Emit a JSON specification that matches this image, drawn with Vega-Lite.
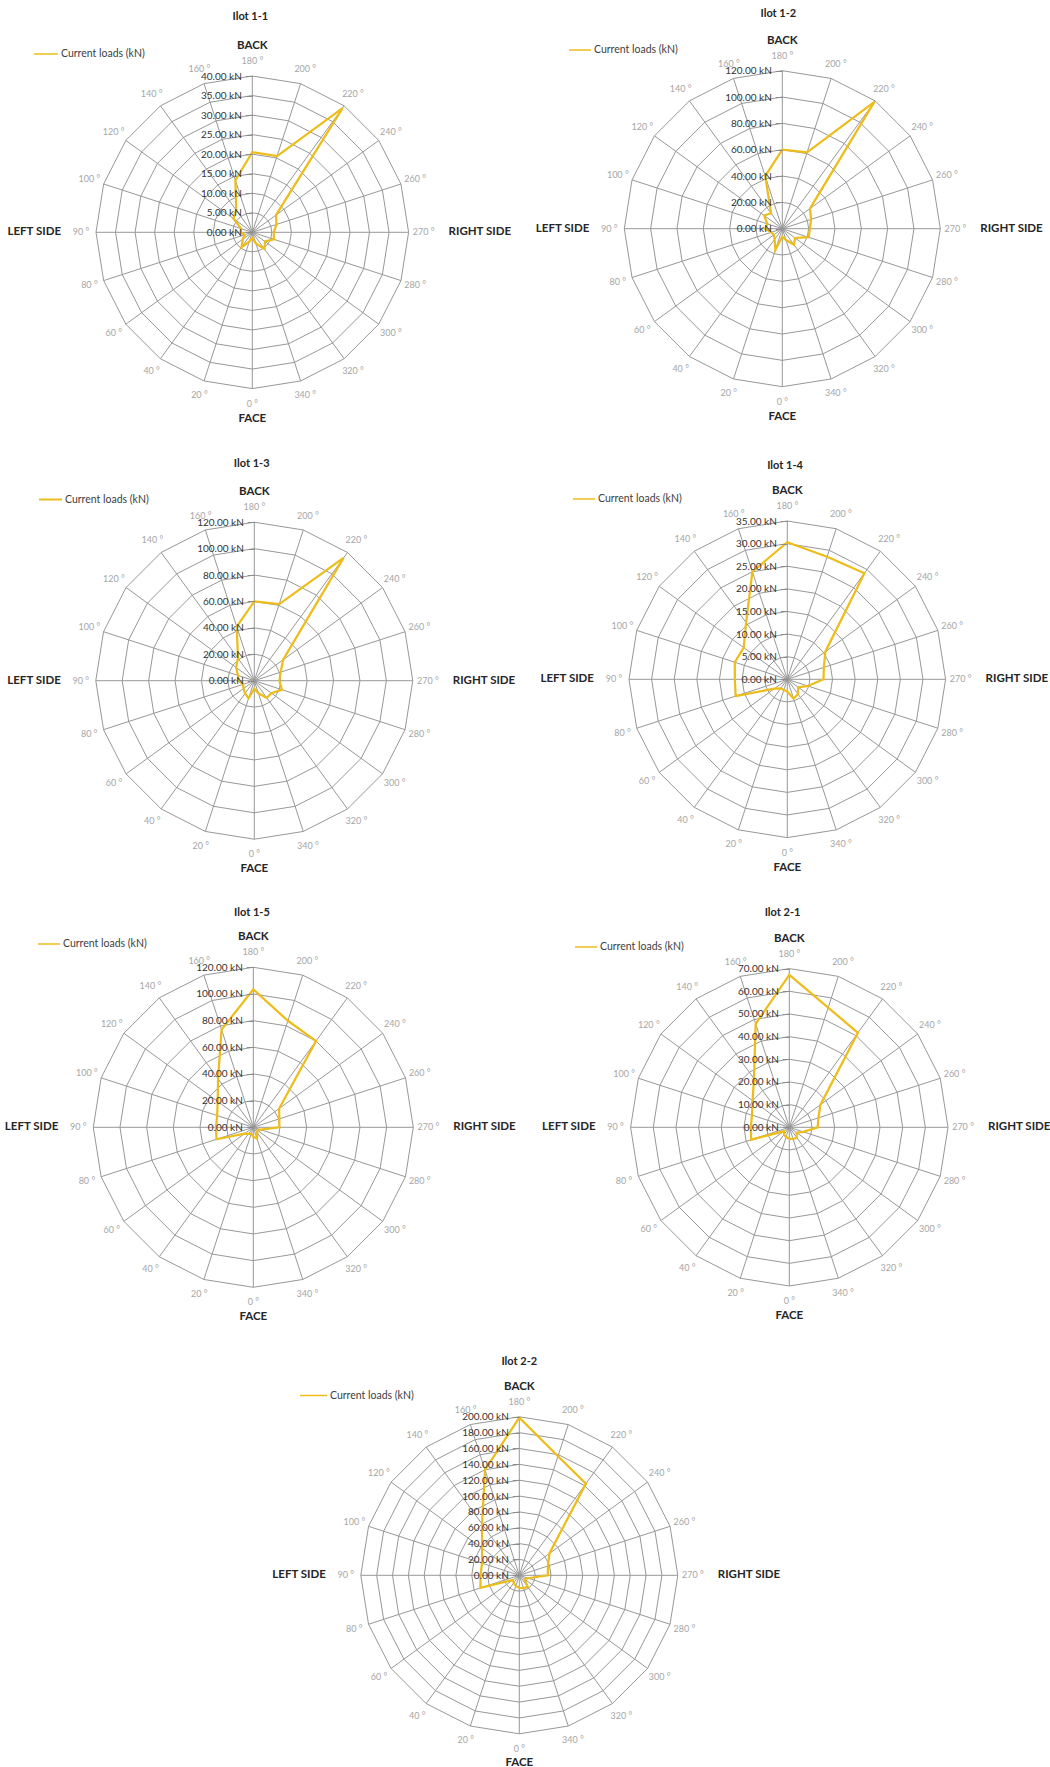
{
"$schema": "https://vega.github.io/schema/vega-lite/v6.json",
"padding": 0,
"background": "white",
"config": {"view": {"stroke": null}, "font": "Lato"},
"datasets": {
"spokes": [
{"dir":180,"i":0,"lab":"180 °"},{"dir":200,"i":1,"lab":"200 °"},{"dir":220,"i":2,"lab":"220 °"},{"dir":240,"i":3,"lab":"240 °"},{"dir":260,"i":4,"lab":"260 °"},{"dir":270,"i":5,"lab":"270 °"},{"dir":280,"i":6,"lab":"280 °"},{"dir":300,"i":7,"lab":"300 °"},{"dir":320,"i":8,"lab":"320 °"},{"dir":340,"i":9,"lab":"340 °"},{"dir":0,"i":10,"lab":"0 °"},{"dir":20,"i":11,"lab":"20 °"},{"dir":40,"i":12,"lab":"40 °"},{"dir":60,"i":13,"lab":"60 °"},{"dir":80,"i":14,"lab":"80 °"},{"dir":90,"i":15,"lab":"90 °"},{"dir":100,"i":16,"lab":"100 °"},{"dir":120,"i":17,"lab":"120 °"},{"dir":140,"i":18,"lab":"140 °"},{"dir":160,"i":19,"lab":"160 °"}],
"sides": [{"side":"BACK","i":0},{"side":"RIGHT SIDE","i":5},{"side":"FACE","i":10},{"side":"LEFT SIDE","i":15}],
"titles": [{"t":"Ilot 1-1"},{"t":"Ilot 1-2"},{"t":"Ilot 1-3"},{"t":"Ilot 1-4"},{"t":"Ilot 1-5"},{"t":"Ilot 2-1"},{"t":"Ilot 2-2"}],
"g40": [
{"ring":5,"k":[0,1,2,3,4,5,6,7,8,9,10,11,12,13,14,15,16,17,18,19]},
{"ring":10,"k":[0,1,2,3,4,5,6,7,8,9,10,11,12,13,14,15,16,17,18,19]},
{"ring":15,"k":[0,1,2,3,4,5,6,7,8,9,10,11,12,13,14,15,16,17,18,19]},
{"ring":20,"k":[0,1,2,3,4,5,6,7,8,9,10,11,12,13,14,15,16,17,18,19]},
{"ring":25,"k":[0,1,2,3,4,5,6,7,8,9,10,11,12,13,14,15,16,17,18,19]},
{"ring":30,"k":[0,1,2,3,4,5,6,7,8,9,10,11,12,13,14,15,16,17,18,19]},
{"ring":35,"k":[0,1,2,3,4,5,6,7,8,9,10,11,12,13,14,15,16,17,18,19]},
{"ring":40,"k":[0,1,2,3,4,5,6,7,8,9,10,11,12,13,14,15,16,17,18,19]}],
"g120": [
{"ring":20,"k":[0,1,2,3,4,5,6,7,8,9,10,11,12,13,14,15,16,17,18,19]},
{"ring":40,"k":[0,1,2,3,4,5,6,7,8,9,10,11,12,13,14,15,16,17,18,19]},
{"ring":60,"k":[0,1,2,3,4,5,6,7,8,9,10,11,12,13,14,15,16,17,18,19]},
{"ring":80,"k":[0,1,2,3,4,5,6,7,8,9,10,11,12,13,14,15,16,17,18,19]},
{"ring":100,"k":[0,1,2,3,4,5,6,7,8,9,10,11,12,13,14,15,16,17,18,19]},
{"ring":120,"k":[0,1,2,3,4,5,6,7,8,9,10,11,12,13,14,15,16,17,18,19]}],
"g35": [
{"ring":5,"k":[0,1,2,3,4,5,6,7,8,9,10,11,12,13,14,15,16,17,18,19]},
{"ring":10,"k":[0,1,2,3,4,5,6,7,8,9,10,11,12,13,14,15,16,17,18,19]},
{"ring":15,"k":[0,1,2,3,4,5,6,7,8,9,10,11,12,13,14,15,16,17,18,19]},
{"ring":20,"k":[0,1,2,3,4,5,6,7,8,9,10,11,12,13,14,15,16,17,18,19]},
{"ring":25,"k":[0,1,2,3,4,5,6,7,8,9,10,11,12,13,14,15,16,17,18,19]},
{"ring":30,"k":[0,1,2,3,4,5,6,7,8,9,10,11,12,13,14,15,16,17,18,19]},
{"ring":35,"k":[0,1,2,3,4,5,6,7,8,9,10,11,12,13,14,15,16,17,18,19]}],
"g70": [
{"ring":10,"k":[0,1,2,3,4,5,6,7,8,9,10,11,12,13,14,15,16,17,18,19]},
{"ring":20,"k":[0,1,2,3,4,5,6,7,8,9,10,11,12,13,14,15,16,17,18,19]},
{"ring":30,"k":[0,1,2,3,4,5,6,7,8,9,10,11,12,13,14,15,16,17,18,19]},
{"ring":40,"k":[0,1,2,3,4,5,6,7,8,9,10,11,12,13,14,15,16,17,18,19]},
{"ring":50,"k":[0,1,2,3,4,5,6,7,8,9,10,11,12,13,14,15,16,17,18,19]},
{"ring":60,"k":[0,1,2,3,4,5,6,7,8,9,10,11,12,13,14,15,16,17,18,19]},
{"ring":70,"k":[0,1,2,3,4,5,6,7,8,9,10,11,12,13,14,15,16,17,18,19]}],
"g200": [
{"ring":20,"k":[0,1,2,3,4,5,6,7,8,9,10,11,12,13,14,15,16,17,18,19]},
{"ring":40,"k":[0,1,2,3,4,5,6,7,8,9,10,11,12,13,14,15,16,17,18,19]},
{"ring":60,"k":[0,1,2,3,4,5,6,7,8,9,10,11,12,13,14,15,16,17,18,19]},
{"ring":80,"k":[0,1,2,3,4,5,6,7,8,9,10,11,12,13,14,15,16,17,18,19]},
{"ring":100,"k":[0,1,2,3,4,5,6,7,8,9,10,11,12,13,14,15,16,17,18,19]},
{"ring":120,"k":[0,1,2,3,4,5,6,7,8,9,10,11,12,13,14,15,16,17,18,19]},
{"ring":140,"k":[0,1,2,3,4,5,6,7,8,9,10,11,12,13,14,15,16,17,18,19]},
{"ring":160,"k":[0,1,2,3,4,5,6,7,8,9,10,11,12,13,14,15,16,17,18,19]},
{"ring":180,"k":[0,1,2,3,4,5,6,7,8,9,10,11,12,13,14,15,16,17,18,19]},
{"ring":200,"k":[0,1,2,3,4,5,6,7,8,9,10,11,12,13,14,15,16,17,18,19]}],
"loads": [
{"ilot":"Ilot 1-1","dir":180,"load":20.5},{"ilot":"Ilot 1-1","dir":200,"load":20.5},{"ilot":"Ilot 1-1","dir":220,"load":39.3},{"ilot":"Ilot 1-1","dir":240,"load":7.5},{"ilot":"Ilot 1-1","dir":260,"load":6.5},{"ilot":"Ilot 1-1","dir":270,"load":5.5},{"ilot":"Ilot 1-1","dir":280,"load":5.8},{"ilot":"Ilot 1-1","dir":300,"load":4.0},{"ilot":"Ilot 1-1","dir":320,"load":5.3},{"ilot":"Ilot 1-1","dir":340,"load":3.0},{"ilot":"Ilot 1-1","dir":0,"load":1.5},{"ilot":"Ilot 1-1","dir":20,"load":2.5},{"ilot":"Ilot 1-1","dir":40,"load":4.7},{"ilot":"Ilot 1-1","dir":60,"load":3.0},{"ilot":"Ilot 1-1","dir":80,"load":2.0},{"ilot":"Ilot 1-1","dir":90,"load":3.0},{"ilot":"Ilot 1-1","dir":100,"load":3.0},{"ilot":"Ilot 1-1","dir":120,"load":6.0},{"ilot":"Ilot 1-1","dir":140,"load":7.0},{"ilot":"Ilot 1-1","dir":160,"load":14.0},
{"ilot":"Ilot 1-2","dir":180,"load":60},{"ilot":"Ilot 1-2","dir":200,"load":61},{"ilot":"Ilot 1-2","dir":220,"load":119},{"ilot":"Ilot 1-2","dir":240,"load":26},{"ilot":"Ilot 1-2","dir":260,"load":23},{"ilot":"Ilot 1-2","dir":270,"load":21},{"ilot":"Ilot 1-2","dir":280,"load":21},{"ilot":"Ilot 1-2","dir":300,"load":12},{"ilot":"Ilot 1-2","dir":320,"load":15},{"ilot":"Ilot 1-2","dir":340,"load":9},{"ilot":"Ilot 1-2","dir":0,"load":6},{"ilot":"Ilot 1-2","dir":20,"load":17},{"ilot":"Ilot 1-2","dir":40,"load":10},{"ilot":"Ilot 1-2","dir":60,"load":8},{"ilot":"Ilot 1-2","dir":80,"load":9},{"ilot":"Ilot 1-2","dir":90,"load":13},{"ilot":"Ilot 1-2","dir":100,"load":12},{"ilot":"Ilot 1-2","dir":120,"load":17},{"ilot":"Ilot 1-2","dir":140,"load":14.5},{"ilot":"Ilot 1-2","dir":160,"load":42},
{"ilot":"Ilot 1-3","dir":180,"load":60},{"ilot":"Ilot 1-3","dir":200,"load":61},{"ilot":"Ilot 1-3","dir":220,"load":115},{"ilot":"Ilot 1-3","dir":240,"load":27},{"ilot":"Ilot 1-3","dir":260,"load":21},{"ilot":"Ilot 1-3","dir":270,"load":19},{"ilot":"Ilot 1-3","dir":280,"load":22},{"ilot":"Ilot 1-3","dir":300,"load":16},{"ilot":"Ilot 1-3","dir":320,"load":16},{"ilot":"Ilot 1-3","dir":340,"load":10},{"ilot":"Ilot 1-3","dir":0,"load":6},{"ilot":"Ilot 1-3","dir":20,"load":14},{"ilot":"Ilot 1-3","dir":40,"load":12},{"ilot":"Ilot 1-3","dir":60,"load":10},{"ilot":"Ilot 1-3","dir":80,"load":9},{"ilot":"Ilot 1-3","dir":90,"load":12},{"ilot":"Ilot 1-3","dir":100,"load":13},{"ilot":"Ilot 1-3","dir":120,"load":17},{"ilot":"Ilot 1-3","dir":140,"load":21},{"ilot":"Ilot 1-3","dir":160,"load":43},
{"ilot":"Ilot 1-4","dir":180,"load":30.3},{"ilot":"Ilot 1-4","dir":200,"load":28.5},{"ilot":"Ilot 1-4","dir":220,"load":29},{"ilot":"Ilot 1-4","dir":240,"load":10.4},{"ilot":"Ilot 1-4","dir":260,"load":8.5},{"ilot":"Ilot 1-4","dir":270,"load":8},{"ilot":"Ilot 1-4","dir":280,"load":4.8},{"ilot":"Ilot 1-4","dir":300,"load":3},{"ilot":"Ilot 1-4","dir":320,"load":4},{"ilot":"Ilot 1-4","dir":340,"load":4.5},{"ilot":"Ilot 1-4","dir":0,"load":2.7},{"ilot":"Ilot 1-4","dir":20,"load":2.5},{"ilot":"Ilot 1-4","dir":40,"load":2.5},{"ilot":"Ilot 1-4","dir":60,"load":3.5},{"ilot":"Ilot 1-4","dir":80,"load":12},{"ilot":"Ilot 1-4","dir":90,"load":11.6},{"ilot":"Ilot 1-4","dir":100,"load":12.2},{"ilot":"Ilot 1-4","dir":120,"load":11.9},{"ilot":"Ilot 1-4","dir":140,"load":15.5},{"ilot":"Ilot 1-4","dir":160,"load":25},
{"ilot":"Ilot 1-5","dir":180,"load":103.5},{"ilot":"Ilot 1-5","dir":200,"load":84},{"ilot":"Ilot 1-5","dir":220,"load":80},{"ilot":"Ilot 1-5","dir":240,"load":24},{"ilot":"Ilot 1-5","dir":260,"load":20.5},{"ilot":"Ilot 1-5","dir":270,"load":19.5},{"ilot":"Ilot 1-5","dir":280,"load":5.5},{"ilot":"Ilot 1-5","dir":300,"load":4},{"ilot":"Ilot 1-5","dir":320,"load":5},{"ilot":"Ilot 1-5","dir":340,"load":9},{"ilot":"Ilot 1-5","dir":0,"load":7},{"ilot":"Ilot 1-5","dir":20,"load":5},{"ilot":"Ilot 1-5","dir":40,"load":6},{"ilot":"Ilot 1-5","dir":60,"load":8},{"ilot":"Ilot 1-5","dir":80,"load":29},{"ilot":"Ilot 1-5","dir":90,"load":28},{"ilot":"Ilot 1-5","dir":100,"load":28.5},{"ilot":"Ilot 1-5","dir":120,"load":33},{"ilot":"Ilot 1-5","dir":140,"load":45},{"ilot":"Ilot 1-5","dir":160,"load":77},
{"ilot":"Ilot 2-1","dir":180,"load":67.2},{"ilot":"Ilot 2-1","dir":200,"load":55.5},{"ilot":"Ilot 2-1","dir":220,"load":51.5},{"ilot":"Ilot 2-1","dir":240,"load":17},{"ilot":"Ilot 2-1","dir":260,"load":13.5},{"ilot":"Ilot 2-1","dir":270,"load":12.5},{"ilot":"Ilot 2-1","dir":280,"load":6.5},{"ilot":"Ilot 2-1","dir":300,"load":4},{"ilot":"Ilot 2-1","dir":320,"load":5.5},{"ilot":"Ilot 2-1","dir":340,"load":5.5},{"ilot":"Ilot 2-1","dir":0,"load":5},{"ilot":"Ilot 2-1","dir":20,"load":4.5},{"ilot":"Ilot 2-1","dir":40,"load":4},{"ilot":"Ilot 2-1","dir":60,"load":3},{"ilot":"Ilot 2-1","dir":80,"load":17.7},{"ilot":"Ilot 2-1","dir":90,"load":17},{"ilot":"Ilot 2-1","dir":100,"load":17.3},{"ilot":"Ilot 2-1","dir":120,"load":20},{"ilot":"Ilot 2-1","dir":140,"load":26.5},{"ilot":"Ilot 2-1","dir":160,"load":48},
{"ilot":"Ilot 2-2","dir":180,"load":199},{"ilot":"Ilot 2-2","dir":200,"load":158},{"ilot":"Ilot 2-2","dir":220,"load":143},{"ilot":"Ilot 2-2","dir":240,"load":47},{"ilot":"Ilot 2-2","dir":260,"load":38},{"ilot":"Ilot 2-2","dir":270,"load":36},{"ilot":"Ilot 2-2","dir":280,"load":12},{"ilot":"Ilot 2-2","dir":300,"load":8},{"ilot":"Ilot 2-2","dir":320,"load":18},{"ilot":"Ilot 2-2","dir":340,"load":17},{"ilot":"Ilot 2-2","dir":0,"load":16},{"ilot":"Ilot 2-2","dir":20,"load":14},{"ilot":"Ilot 2-2","dir":40,"load":12},{"ilot":"Ilot 2-2","dir":60,"load":10},{"ilot":"Ilot 2-2","dir":80,"load":51.5},{"ilot":"Ilot 2-2","dir":90,"load":49},{"ilot":"Ilot 2-2","dir":100,"load":49.4},{"ilot":"Ilot 2-2","dir":120,"load":58},{"ilot":"Ilot 2-2","dir":140,"load":80},{"ilot":"Ilot 2-2","dir":160,"load":140}]
},
"spacing": 0,
"resolve": {"scale": {"color": "independent"}, "legend": {"color": "independent"}},
"vconcat": [
{"hconcat": [
{"width":525,"height":448,
"encoding":{
"x":{"field":"x","type":"quantitative","scale":{"domain":[-64.57,69.79],"nice":false,"zero":false},"axis":null},
"y":{"field":"y","type":"quantitative","scale":{"domain":[-55.2,59.45],"nice":false,"zero":false},"axis":{"orient":"left","offset":-252.3,"values":[0,5,10,15,20,25,30,35,40],"labelExpr":"format(datum.value, '.2f') + ' kN'","domain":false,"grid":false,"tickSize":7,"tickColor":"#8c8c8c","labelPadding":4,"labelFontSize":10,"labelColor":"#333333","title":null,"zindex":1,"labelOverlap":false,"labelBound":false,"labelFlush":false}}},
"layer":[
{"data":{"name":"g40"},"transform":[{"flatten":["k"]},{"calculate":"datum.ring * sin(datum.k * PI / 10)","as":"x"},{"calculate":"datum.ring * cos(datum.k * PI / 10)","as":"y"}],"mark":{"type":"line","interpolate":"linear-closed","stroke":"#989898","strokeWidth":1},"encoding":{"detail":{"field":"ring","type":"nominal"},"order":{"field":"k","type":"quantitative"}}},
{"data":{"name":"g40"},"transform":[{"filter":"datum.ring == 40"},{"flatten":["k"]},{"calculate":"datum.ring * sin(datum.k * PI / 10)","as":"x"},{"calculate":"datum.ring * cos(datum.k * PI / 10)","as":"y"}],"mark":{"type":"rule","stroke":"#989898","strokeWidth":1},"encoding":{"x":{"datum":0,"type":"quantitative"},"y":{"datum":0,"type":"quantitative"},"x2":{"field":"x"},"y2":{"field":"y"}}},
{"data":{"name":"loads"},"transform":[{"filter":"datum.ilot == 'Ilot 1-1'"},{"lookup":"dir","from":{"data":{"name":"spokes"},"key":"dir","fields":["i"]}},{"calculate":"datum.load * sin(datum.i * PI / 10)","as":"x"},{"calculate":"datum.load * cos(datum.i * PI / 10)","as":"y"}],"mark":{"type":"line","interpolate":"linear-closed","strokeWidth":2.25},"encoding":{"order":{"field":"i","type":"quantitative"},"color":{"datum":"Current loads (kN)","type":"nominal","scale":{"range":["#EDBD1C"]},"legend":{"orient":"none","legendX":33,"legendY":41,"title":null,"symbolType":"stroke","symbolSize":576,"symbolStrokeWidth":1.5,"labelFontSize":10.5,"labelColor":"#404040","labelOffset":2,"padding":0}}}},
{"data":{"name":"spokes"},"transform":[{"calculate":"43.84 * sin(datum.i * PI / 10)","as":"x"},{"calculate":"43.84 * cos(datum.i * PI / 10)","as":"y"}],"mark":{"type":"text","fontSize":9,"color":"#a6a6a6"},"encoding":{"text":{"field":"lab"}}},
{"data":{"name":"sides"},"transform":[{"calculate":"datum.i == 5 ? 50.24 : (datum.i == 15 ? 48.96 : 47.68)","as":"r"},{"calculate":"datum.r * sin(datum.i * PI / 10)","as":"x"},{"calculate":"datum.r * cos(datum.i * PI / 10)","as":"y"}],"mark":{"type":"text","fontSize":11.5,"fontWeight":"bold","color":"#262626","align":{"expr":"datum.i == 15 ? 'right' : (datum.i == 5 ? 'left' : 'center')"}},"encoding":{"text":{"field":"side"}}},
{"data":{"name":"titles"},"transform":[{"filter":"datum.t == 'Ilot 1-1'"},{"calculate":"-0.5","as":"x"},{"calculate":"55.02","as":"y"}],"mark":{"type":"text","fontSize":11,"fontWeight":"bold","color":"#262626"},"encoding":{"text":{"field":"t"}}}
]},
{"width":525,"height":448,
"encoding":{
"x":{"field":"x","type":"quantitative","scale":{"domain":[-195.42,203.32],"nice":false,"zero":false},"axis":null},
"y":{"field":"y","type":"quantitative","scale":{"domain":[-166.56,173.7],"nice":false,"zero":false},"axis":{"orient":"left","offset":-257.3,"values":[0,20,40,60,80,100,120],"labelExpr":"format(datum.value, '.2f') + ' kN'","domain":false,"grid":false,"tickSize":7,"tickColor":"#8c8c8c","labelPadding":4,"labelFontSize":10,"labelColor":"#333333","title":null,"zindex":1,"labelOverlap":false,"labelBound":false,"labelFlush":false}}},
"layer":[
{"data":{"name":"g120"},"transform":[{"flatten":["k"]},{"calculate":"datum.ring * sin(datum.k * PI / 10)","as":"x"},{"calculate":"datum.ring * cos(datum.k * PI / 10)","as":"y"}],"mark":{"type":"line","interpolate":"linear-closed","stroke":"#989898","strokeWidth":1},"encoding":{"detail":{"field":"ring","type":"nominal"},"order":{"field":"k","type":"quantitative"}}},
{"data":{"name":"g120"},"transform":[{"filter":"datum.ring == 120"},{"flatten":["k"]},{"calculate":"datum.ring * sin(datum.k * PI / 10)","as":"x"},{"calculate":"datum.ring * cos(datum.k * PI / 10)","as":"y"}],"mark":{"type":"rule","stroke":"#989898","strokeWidth":1},"encoding":{"x":{"datum":0,"type":"quantitative"},"y":{"datum":0,"type":"quantitative"},"x2":{"field":"x"},"y2":{"field":"y"}}},
{"data":{"name":"loads"},"transform":[{"filter":"datum.ilot == 'Ilot 1-2'"},{"lookup":"dir","from":{"data":{"name":"spokes"},"key":"dir","fields":["i"]}},{"calculate":"datum.load * sin(datum.i * PI / 10)","as":"x"},{"calculate":"datum.load * cos(datum.i * PI / 10)","as":"y"}],"mark":{"type":"line","interpolate":"linear-closed","strokeWidth":2.25},"encoding":{"order":{"field":"i","type":"quantitative"},"color":{"datum":"Current loads (kN)","type":"nominal","scale":{"range":["#EDBD1C"]},"legend":{"orient":"none","legendX":43,"legendY":38,"title":null,"symbolType":"stroke","symbolSize":484,"symbolStrokeWidth":1.5,"labelFontSize":10.5,"labelColor":"#404040","labelOffset":2,"padding":0}}}},
{"data":{"name":"spokes"},"transform":[{"calculate":"131.39 * sin(datum.i * PI / 10)","as":"x"},{"calculate":"131.39 * cos(datum.i * PI / 10)","as":"y"}],"mark":{"type":"text","fontSize":9,"color":"#a6a6a6"},"encoding":{"text":{"field":"lab"}}},
{"data":{"name":"sides"},"transform":[{"calculate":"datum.i == 5 ? 150.38 : (datum.i == 15 ? 146.58 : 142.78)","as":"r"},{"calculate":"datum.r * sin(datum.i * PI / 10)","as":"x"},{"calculate":"datum.r * cos(datum.i * PI / 10)","as":"y"}],"mark":{"type":"text","fontSize":11.5,"fontWeight":"bold","color":"#262626","align":{"expr":"datum.i == 15 ? 'right' : (datum.i == 5 ? 'left' : 'center')"}},"encoding":{"text":{"field":"side"}}},
{"data":{"name":"titles"},"transform":[{"filter":"datum.t == 'Ilot 1-2'"},{"calculate":"-3","as":"x"},{"calculate":"163.06","as":"y"}],"mark":{"type":"text","fontSize":11,"fontWeight":"bold","color":"#262626"},"encoding":{"text":{"field":"t"}}}
]}
], "spacing": 0, "resolve": {"scale": {"color": "independent"}, "legend": {"color": "independent"}}},
{"hconcat": [
{"width":525,"height":448,
"encoding":{
"x":{"field":"x","type":"quantitative","scale":{"domain":[-192.53,204.95],"nice":false,"zero":false},"axis":null},
"y":{"field":"y","type":"quantitative","scale":{"domain":[-163.0,176.18],"nice":false,"zero":false},"axis":{"orient":"left","offset":-254.3,"values":[0,20,40,60,80,100,120],"labelExpr":"format(datum.value, '.2f') + ' kN'","domain":false,"grid":false,"tickSize":7,"tickColor":"#8c8c8c","labelPadding":4,"labelFontSize":10,"labelColor":"#333333","title":null,"zindex":1,"labelOverlap":false,"labelBound":false,"labelFlush":false}}},
"layer":[
{"data":{"name":"g120"},"transform":[{"flatten":["k"]},{"calculate":"datum.ring * sin(datum.k * PI / 10)","as":"x"},{"calculate":"datum.ring * cos(datum.k * PI / 10)","as":"y"}],"mark":{"type":"line","interpolate":"linear-closed","stroke":"#989898","strokeWidth":1},"encoding":{"detail":{"field":"ring","type":"nominal"},"order":{"field":"k","type":"quantitative"}}},
{"data":{"name":"g120"},"transform":[{"filter":"datum.ring == 120"},{"flatten":["k"]},{"calculate":"datum.ring * sin(datum.k * PI / 10)","as":"x"},{"calculate":"datum.ring * cos(datum.k * PI / 10)","as":"y"}],"mark":{"type":"rule","stroke":"#989898","strokeWidth":1},"encoding":{"x":{"datum":0,"type":"quantitative"},"y":{"datum":0,"type":"quantitative"},"x2":{"field":"x"},"y2":{"field":"y"}}},
{"data":{"name":"loads"},"transform":[{"filter":"datum.ilot == 'Ilot 1-3'"},{"lookup":"dir","from":{"data":{"name":"spokes"},"key":"dir","fields":["i"]}},{"calculate":"datum.load * sin(datum.i * PI / 10)","as":"x"},{"calculate":"datum.load * cos(datum.i * PI / 10)","as":"y"}],"mark":{"type":"line","interpolate":"linear-closed","strokeWidth":2.25},"encoding":{"order":{"field":"i","type":"quantitative"},"color":{"datum":"Current loads (kN)","type":"nominal","scale":{"range":["#EDBD1C"]},"legend":{"orient":"none","legendX":38,"legendY":39,"title":null,"symbolType":"stroke","symbolSize":529,"symbolStrokeWidth":2,"labelFontSize":10.5,"labelColor":"#404040","labelOffset":2,"padding":0}}}},
{"data":{"name":"spokes"},"transform":[{"calculate":"131.36 * sin(datum.i * PI / 10)","as":"x"},{"calculate":"131.36 * cos(datum.i * PI / 10)","as":"y"}],"mark":{"type":"text","fontSize":9,"color":"#a6a6a6"},"encoding":{"text":{"field":"lab"}}},
{"data":{"name":"sides"},"transform":[{"calculate":"datum.i == 5 ? 150.28 : (datum.i == 15 ? 146.5 : 142.71)","as":"r"},{"calculate":"datum.r * sin(datum.i * PI / 10)","as":"x"},{"calculate":"datum.r * cos(datum.i * PI / 10)","as":"y"}],"mark":{"type":"text","fontSize":11.5,"fontWeight":"bold","color":"#262626","align":{"expr":"datum.i == 15 ? 'right' : (datum.i == 5 ? 'left' : 'center')"}},"encoding":{"text":{"field":"side"}}},
{"data":{"name":"titles"},"transform":[{"filter":"datum.t == 'Ilot 1-3'"},{"calculate":"-2","as":"x"},{"calculate":"163.84","as":"y"}],"mark":{"type":"text","fontSize":11,"fontWeight":"bold","color":"#262626"},"encoding":{"text":{"field":"t"}}}
]},
{"width":525,"height":448,
"encoding":{
"x":{"field":"x","type":"quantitative","scale":{"domain":[-57.99,58.08],"nice":false,"zero":false},"axis":null},
"y":{"field":"y","type":"quantitative","scale":{"domain":[-47.91,51.14],"nice":false,"zero":false},"axis":{"orient":"left","offset":-262.3,"values":[0,5,10,15,20,25,30,35],"labelExpr":"format(datum.value, '.2f') + ' kN'","domain":false,"grid":false,"tickSize":7,"tickColor":"#8c8c8c","labelPadding":4,"labelFontSize":10,"labelColor":"#333333","title":null,"zindex":1,"labelOverlap":false,"labelBound":false,"labelFlush":false}}},
"layer":[
{"data":{"name":"g35"},"transform":[{"flatten":["k"]},{"calculate":"datum.ring * sin(datum.k * PI / 10)","as":"x"},{"calculate":"datum.ring * cos(datum.k * PI / 10)","as":"y"}],"mark":{"type":"line","interpolate":"linear-closed","stroke":"#989898","strokeWidth":1},"encoding":{"detail":{"field":"ring","type":"nominal"},"order":{"field":"k","type":"quantitative"}}},
{"data":{"name":"g35"},"transform":[{"filter":"datum.ring == 35"},{"flatten":["k"]},{"calculate":"datum.ring * sin(datum.k * PI / 10)","as":"x"},{"calculate":"datum.ring * cos(datum.k * PI / 10)","as":"y"}],"mark":{"type":"rule","stroke":"#989898","strokeWidth":1},"encoding":{"x":{"datum":0,"type":"quantitative"},"y":{"datum":0,"type":"quantitative"},"x2":{"field":"x"},"y2":{"field":"y"}}},
{"data":{"name":"loads"},"transform":[{"filter":"datum.ilot == 'Ilot 1-4'"},{"lookup":"dir","from":{"data":{"name":"spokes"},"key":"dir","fields":["i"]}},{"calculate":"datum.load * sin(datum.i * PI / 10)","as":"x"},{"calculate":"datum.load * cos(datum.i * PI / 10)","as":"y"}],"mark":{"type":"line","interpolate":"linear-closed","strokeWidth":2.25},"encoding":{"order":{"field":"i","type":"quantitative"},"color":{"datum":"Current loads (kN)","type":"nominal","scale":{"range":["#EDBD1C"]},"legend":{"orient":"none","legendX":47,"legendY":39,"title":null,"symbolType":"stroke","symbolSize":484,"symbolStrokeWidth":1.5,"labelFontSize":10.5,"labelColor":"#404040","labelOffset":2,"padding":0}}}},
{"data":{"name":"spokes"},"transform":[{"calculate":"38.32 * sin(datum.i * PI / 10)","as":"x"},{"calculate":"38.32 * cos(datum.i * PI / 10)","as":"y"}],"mark":{"type":"text","fontSize":9,"color":"#a6a6a6"},"encoding":{"text":{"field":"lab"}}},
{"data":{"name":"sides"},"transform":[{"calculate":"datum.i == 5 ? 43.84 : (datum.i == 15 ? 42.74 : 41.63)","as":"r"},{"calculate":"datum.r * sin(datum.i * PI / 10)","as":"x"},{"calculate":"datum.r * cos(datum.i * PI / 10)","as":"y"}],"mark":{"type":"text","fontSize":11.5,"fontWeight":"bold","color":"#262626","align":{"expr":"datum.i == 15 ? 'right' : (datum.i == 5 ? 'left' : 'center')"}},"encoding":{"text":{"field":"side"}}},
{"data":{"name":"titles"},"transform":[{"filter":"datum.t == 'Ilot 1-4'"},{"calculate":"-0.5","as":"x"},{"calculate":"47.23","as":"y"}],"mark":{"type":"text","fontSize":11,"fontWeight":"bold","color":"#262626"},"encoding":{"text":{"field":"t"}}}
]}
], "spacing": 0, "resolve": {"scale": {"color": "independent"}, "legend": {"color": "independent"}}},
{"hconcat": [
{"width":525,"height":448,
"encoding":{
"x":{"field":"x","type":"quantitative","scale":{"domain":[-189.98,203.78],"nice":false,"zero":false},"axis":null},
"y":{"field":"y","type":"quantitative","scale":{"domain":[-162.53,173.48],"nice":false,"zero":false},"axis":{"orient":"left","offset":-253.3,"values":[0,20,40,60,80,100,120],"labelExpr":"format(datum.value, '.2f') + ' kN'","domain":false,"grid":false,"tickSize":7,"tickColor":"#8c8c8c","labelPadding":4,"labelFontSize":10,"labelColor":"#333333","title":null,"zindex":1,"labelOverlap":false,"labelBound":false,"labelFlush":false}}},
"layer":[
{"data":{"name":"g120"},"transform":[{"flatten":["k"]},{"calculate":"datum.ring * sin(datum.k * PI / 10)","as":"x"},{"calculate":"datum.ring * cos(datum.k * PI / 10)","as":"y"}],"mark":{"type":"line","interpolate":"linear-closed","stroke":"#989898","strokeWidth":1},"encoding":{"detail":{"field":"ring","type":"nominal"},"order":{"field":"k","type":"quantitative"}}},
{"data":{"name":"g120"},"transform":[{"filter":"datum.ring == 120"},{"flatten":["k"]},{"calculate":"datum.ring * sin(datum.k * PI / 10)","as":"x"},{"calculate":"datum.ring * cos(datum.k * PI / 10)","as":"y"}],"mark":{"type":"rule","stroke":"#989898","strokeWidth":1},"encoding":{"x":{"datum":0,"type":"quantitative"},"y":{"datum":0,"type":"quantitative"},"x2":{"field":"x"},"y2":{"field":"y"}}},
{"data":{"name":"loads"},"transform":[{"filter":"datum.ilot == 'Ilot 1-5'"},{"lookup":"dir","from":{"data":{"name":"spokes"},"key":"dir","fields":["i"]}},{"calculate":"datum.load * sin(datum.i * PI / 10)","as":"x"},{"calculate":"datum.load * cos(datum.i * PI / 10)","as":"y"}],"mark":{"type":"line","interpolate":"linear-closed","strokeWidth":2.25},"encoding":{"order":{"field":"i","type":"quantitative"},"color":{"datum":"Current loads (kN)","type":"nominal","scale":{"range":["#EDBD1C"]},"legend":{"orient":"none","legendX":37,"legendY":36,"title":null,"symbolType":"stroke","symbolSize":484,"symbolStrokeWidth":1.5,"labelFontSize":10.5,"labelColor":"#404040","labelOffset":2,"padding":0}}}},
{"data":{"name":"spokes"},"transform":[{"calculate":"131.25 * sin(datum.i * PI / 10)","as":"x"},{"calculate":"131.25 * cos(datum.i * PI / 10)","as":"y"}],"mark":{"type":"text","fontSize":9,"color":"#a6a6a6"},"encoding":{"text":{"field":"lab"}}},
{"data":{"name":"sides"},"transform":[{"calculate":"datum.i == 5 ? 150 : (datum.i == 15 ? 146.25 : 142.5)","as":"r"},{"calculate":"datum.r * sin(datum.i * PI / 10)","as":"x"},{"calculate":"datum.r * cos(datum.i * PI / 10)","as":"y"}],"mark":{"type":"text","fontSize":11.5,"fontWeight":"bold","color":"#262626","align":{"expr":"datum.i == 15 ? 'right' : (datum.i == 5 ? 'left' : 'center')"}},"encoding":{"text":{"field":"side"}}},
{"data":{"name":"titles"},"transform":[{"filter":"datum.t == 'Ilot 1-5'"},{"calculate":"-1","as":"x"},{"calculate":"160.73","as":"y"}],"mark":{"type":"text","fontSize":11,"fontWeight":"bold","color":"#262626"},"encoding":{"text":{"field":"t"}}}
]},
{"width":525,"height":448,
"encoding":{
"x":{"field":"x","type":"quantitative","scale":{"domain":[-116.58,114.99],"nice":false,"zero":false},"axis":null},
"y":{"field":"y","type":"quantitative","scale":{"domain":[-95.58,102.02],"nice":false,"zero":false},"axis":{"orient":"left","offset":-264.3,"values":[0,10,20,30,40,50,60,70],"labelExpr":"format(datum.value, '.2f') + ' kN'","domain":false,"grid":false,"tickSize":7,"tickColor":"#8c8c8c","labelPadding":4,"labelFontSize":10,"labelColor":"#333333","title":null,"zindex":1,"labelOverlap":false,"labelBound":false,"labelFlush":false}}},
"layer":[
{"data":{"name":"g70"},"transform":[{"flatten":["k"]},{"calculate":"datum.ring * sin(datum.k * PI / 10)","as":"x"},{"calculate":"datum.ring * cos(datum.k * PI / 10)","as":"y"}],"mark":{"type":"line","interpolate":"linear-closed","stroke":"#989898","strokeWidth":1},"encoding":{"detail":{"field":"ring","type":"nominal"},"order":{"field":"k","type":"quantitative"}}},
{"data":{"name":"g70"},"transform":[{"filter":"datum.ring == 70"},{"flatten":["k"]},{"calculate":"datum.ring * sin(datum.k * PI / 10)","as":"x"},{"calculate":"datum.ring * cos(datum.k * PI / 10)","as":"y"}],"mark":{"type":"rule","stroke":"#989898","strokeWidth":1},"encoding":{"x":{"datum":0,"type":"quantitative"},"y":{"datum":0,"type":"quantitative"},"x2":{"field":"x"},"y2":{"field":"y"}}},
{"data":{"name":"loads"},"transform":[{"filter":"datum.ilot == 'Ilot 2-1'"},{"lookup":"dir","from":{"data":{"name":"spokes"},"key":"dir","fields":["i"]}},{"calculate":"datum.load * sin(datum.i * PI / 10)","as":"x"},{"calculate":"datum.load * cos(datum.i * PI / 10)","as":"y"}],"mark":{"type":"line","interpolate":"linear-closed","strokeWidth":2.25},"encoding":{"order":{"field":"i","type":"quantitative"},"color":{"datum":"Current loads (kN)","type":"nominal","scale":{"range":["#EDBD1C"]},"legend":{"orient":"none","legendX":49,"legendY":39,"title":null,"symbolType":"stroke","symbolSize":484,"symbolStrokeWidth":1.5,"labelFontSize":10.5,"labelColor":"#404040","labelOffset":2,"padding":0}}}},
{"data":{"name":"spokes"},"transform":[{"calculate":"76.62 * sin(datum.i * PI / 10)","as":"x"},{"calculate":"76.62 * cos(datum.i * PI / 10)","as":"y"}],"mark":{"type":"text","fontSize":9,"color":"#a6a6a6"},"encoding":{"text":{"field":"lab"}}},
{"data":{"name":"sides"},"transform":[{"calculate":"datum.i == 5 ? 87.64 : (datum.i == 15 ? 85.44 : 83.23)","as":"r"},{"calculate":"datum.r * sin(datum.i * PI / 10)","as":"x"},{"calculate":"datum.r * cos(datum.i * PI / 10)","as":"y"}],"mark":{"type":"text","fontSize":11.5,"fontWeight":"bold","color":"#262626","align":{"expr":"datum.i == 15 ? 'right' : (datum.i == 5 ? 'left' : 'center')"}},"encoding":{"text":{"field":"side"}}},
{"data":{"name":"titles"},"transform":[{"filter":"datum.t == 'Ilot 2-1'"},{"calculate":"-3","as":"x"},{"calculate":"94.39","as":"y"}],"mark":{"type":"text","fontSize":11,"fontWeight":"bold","color":"#262626"},"encoding":{"text":{"field":"t"}}}
]}
], "spacing": 0, "resolve": {"scale": {"color": "independent"}, "legend": {"color": "independent"}}},
{"width":1050,"height":423,
"encoding":{
"x":{"field":"x","type":"quantitative","scale":{"domain":[-655.27,669.65],"nice":false,"zero":false},"axis":null},
"y":{"field":"y","type":"quantitative","scale":{"domain":[-241.89,291.86],"nice":false,"zero":false},"axis":{"orient":"left","offset":-519.3,"values":[0,20,40,60,80,100,120,140,160,180,200],"labelExpr":"format(datum.value, '.2f') + ' kN'","domain":false,"grid":false,"tickSize":7,"tickColor":"#8c8c8c","labelPadding":4,"labelFontSize":10,"labelColor":"#333333","title":null,"zindex":1,"labelOverlap":false,"labelBound":false,"labelFlush":false}}},
"layer":[
{"data":{"name":"g200"},"transform":[{"flatten":["k"]},{"calculate":"datum.ring * sin(datum.k * PI / 10)","as":"x"},{"calculate":"datum.ring * cos(datum.k * PI / 10)","as":"y"}],"mark":{"type":"line","interpolate":"linear-closed","stroke":"#989898","strokeWidth":1},"encoding":{"detail":{"field":"ring","type":"nominal"},"order":{"field":"k","type":"quantitative"}}},
{"data":{"name":"g200"},"transform":[{"filter":"datum.ring == 200"},{"flatten":["k"]},{"calculate":"datum.ring * sin(datum.k * PI / 10)","as":"x"},{"calculate":"datum.ring * cos(datum.k * PI / 10)","as":"y"}],"mark":{"type":"rule","stroke":"#989898","strokeWidth":1},"encoding":{"x":{"datum":0,"type":"quantitative"},"y":{"datum":0,"type":"quantitative"},"x2":{"field":"x"},"y2":{"field":"y"}}},
{"data":{"name":"loads"},"transform":[{"filter":"datum.ilot == 'Ilot 2-2'"},{"lookup":"dir","from":{"data":{"name":"spokes"},"key":"dir","fields":["i"]}},{"calculate":"datum.load * sin(datum.i * PI / 10)","as":"x"},{"calculate":"datum.load * cos(datum.i * PI / 10)","as":"y"}],"mark":{"type":"line","interpolate":"linear-closed","strokeWidth":2.25},"encoding":{"order":{"field":"i","type":"quantitative"},"color":{"datum":"Current loads (kN)","type":"nominal","scale":{"range":["#EDBD1C"]},"legend":{"orient":"none","legendX":299,"legendY":37,"title":null,"symbolType":"stroke","symbolSize":729,"symbolStrokeWidth":1.5,"labelFontSize":10.5,"labelColor":"#404040","labelOffset":2,"padding":0}}}},
{"data":{"name":"spokes"},"transform":[{"calculate":"218.93 * sin(datum.i * PI / 10)","as":"x"},{"calculate":"218.93 * cos(datum.i * PI / 10)","as":"y"}],"mark":{"type":"text","fontSize":9,"color":"#a6a6a6"},"encoding":{"text":{"field":"lab"}}},
{"data":{"name":"sides"},"transform":[{"calculate":"datum.i == 5 ? 250.47 : (datum.i == 15 ? 244.16 : 237.22)","as":"r"},{"calculate":"datum.r * sin(datum.i * PI / 10)","as":"x"},{"calculate":"datum.r * cos(datum.i * PI / 10)","as":"y"}],"mark":{"type":"text","fontSize":11.5,"fontWeight":"bold","color":"#262626","align":{"expr":"datum.i == 15 ? 'right' : (datum.i == 5 ? 'left' : 'center')"}},"encoding":{"text":{"field":"side"}}},
{"data":{"name":"titles"},"transform":[{"filter":"datum.t == 'Ilot 2-2'"},{"calculate":"0","as":"x"},{"calculate":"269.53","as":"y"}],"mark":{"type":"text","fontSize":11,"fontWeight":"bold","color":"#262626"},"encoding":{"text":{"field":"t"}}}
]}
]
}
